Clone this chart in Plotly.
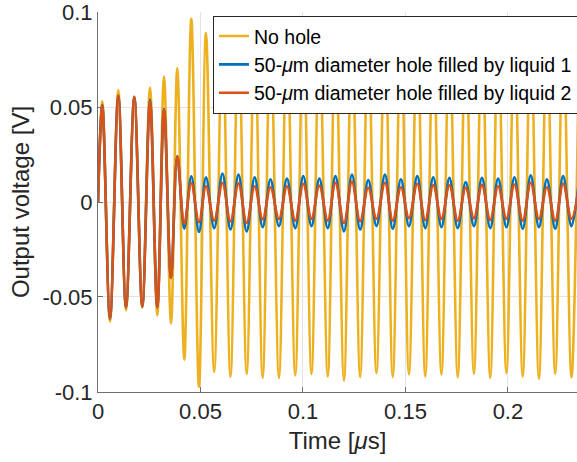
import plotly.graph_objects as go

# Times (µs) of the waveform turning points: start, then alternating peak / trough
t_us = [0, 0.0021, 0.00585, 0.0099, 0.01366, 0.01771, 0.02161, 0.02537, 0.02893,
        0.0322, 0.03561, 0.03868, 0.0421, 0.04551, 0.04927, 0.05268, 0.05668,
        0.06073, 0.06463, 0.06854, 0.07254, 0.07644, 0.08034, 0.08415, 0.08829,
        0.09220, 0.09624, 0.10015, 0.10415, 0.10800, 0.11210, 0.11585, 0.12000,
        0.12390, 0.12790, 0.13185, 0.13585, 0.14000, 0.14380, 0.14780, 0.15171,
        0.15576, 0.15966, 0.16356, 0.16756, 0.17146, 0.17551, 0.17941, 0.18341,
        0.18732, 0.19137, 0.19522, 0.19927, 0.20317, 0.20722, 0.21112, 0.21512,
        0.21902, 0.22307, 0.22693, 0.23098, 0.23483]

# Output voltage (V) at those turning points
v_no_hole = [0, 0.053, -0.063, 0.059, -0.057, 0.0557, -0.0557, 0.0603, -0.0597,
             0.066, -0.064, 0.0705, -0.083, 0.0965, -0.0973, 0.089, -0.0895,
             0.0905, -0.092, 0.0912, -0.0905, 0.0908, -0.0926, 0.0915, -0.0927,
             0.0910, -0.0913, 0.0906, -0.0905, 0.0913, -0.0919, 0.0918, -0.094,
             0.0909, -0.0922, 0.0904, -0.0901, 0.0911, -0.0922, 0.0907, -0.0908,
             0.0914, -0.0919, 0.0906, -0.0908, 0.0912, -0.0922, 0.0905, -0.0905,
             0.0916, -0.0926, 0.0903, -0.0901, 0.0910, -0.0919, 0.0917, -0.0931,
             0.0906, -0.0905, 0.0912, -0.0922, 0.0908]

v_liquid1 = [0, 0.051, -0.0615, 0.056, -0.0555, 0.0552, -0.055, 0.0538, -0.0555,
             0.049, -0.040, 0.0242, -0.014, 0.0135, -0.0158, 0.013, -0.0138,
             0.015, -0.0145, 0.0145, -0.0155, 0.013, -0.0133, 0.012, -0.0127,
             0.0124, -0.0138, 0.0136, -0.0127, 0.0124, -0.0138, 0.0136, -0.0155,
             0.0145, -0.0145, 0.0115, -0.0127, 0.0145, -0.0141, 0.012, -0.0127,
             0.0136, -0.0138, 0.013, -0.0133, 0.0127, -0.0138, 0.0105, -0.0127,
             0.0127, -0.0138, 0.0124, -0.0133, 0.013, -0.0141, 0.014, -0.0133,
             0.012, -0.0141, 0.0136, -0.0127, 0.013]

v_liquid2 = [0, 0.051, -0.0615, 0.056, -0.0555, 0.0552, -0.055, 0.0533, -0.0553,
             0.0487, -0.040, 0.024, -0.0115, 0.010, -0.0106, 0.0083, -0.0098,
             0.0101, -0.0103, 0.0098, -0.011, 0.0083, -0.0092, 0.0078, -0.0089,
             0.0083, -0.0098, 0.0096, -0.0089, 0.0087, -0.0098, 0.0101, -0.011,
             0.0106, -0.0101, 0.0075, -0.0089, 0.0101, -0.0098, 0.0078, -0.0085,
             0.0096, -0.0096, 0.0089, -0.0089, 0.0089, -0.0098, 0.0075, -0.0085,
             0.0089, -0.0094, 0.0083, -0.0089, 0.0092, -0.0098, 0.0101, -0.0089,
             0.0078, -0.0098, 0.0096, -0.0089, 0.009]

series_names = ["No hole",
                "50-<i>μ</i>m diameter hole filled by liquid 1",
                "50-<i>μ</i>m diameter hole filled by liquid 2"]
series_colors = ["#EDB120", "#0072BD", "#D95319"]

x_ticks = [0, 0.05, 0.1, 0.15, 0.2]
x_ticktext = ["0", "0.05", "0.1", "0.15", "0.2"]
y_ticks = [-0.1, -0.05, 0, 0.05, 0.1]
y_ticktext = ["-0.1", "-0.05", "0", "0.05", "0.1"]

FONT = "Liberation Sans, Arial, Helvetica, sans-serif"
TEXT_COLOR = "#262626"
AXIS_LINE_COLOR = "#6e6e6e"
GRID_COLOR = "#e3e3e3"

fig = go.Figure()
for vals, name, color in zip([v_no_hole, v_liquid1, v_liquid2], series_names, series_colors):
    fig.add_trace(go.Scatter(
        x=t_us, y=vals, name=name, mode="lines",
        line=dict(color=color, width=2.6, shape="spline", smoothing=1.0),
    ))

axis_common = dict(
    showline=True, linecolor=AXIS_LINE_COLOR, linewidth=1, mirror=False,
    ticks="inside", ticklen=5, tickcolor=AXIS_LINE_COLOR, tickwidth=1,
    showgrid=True, gridcolor=GRID_COLOR, gridwidth=1,
    zeroline=False, ticklabeloverflow="allow",
    tickfont=dict(family=FONT, size=22, color=TEXT_COLOR),
)

fig.update_xaxes(
    range=[0, 0.2337], tickvals=x_ticks, ticktext=x_ticktext,
    title=dict(text="Time [<i>μ</i>s]", font=dict(family=FONT, size=24, color=TEXT_COLOR), standoff=8),
    **axis_common,
)
fig.update_yaxes(
    range=[-0.10005, 0.10005], tickvals=y_ticks, ticktext=y_ticktext,
    title=dict(text="Output voltage [V]", font=dict(family=FONT, size=24, color=TEXT_COLOR), standoff=6),
    **axis_common,
)

fig.update_layout(
    width=577, height=462,
    margin=dict(l=98, r=0, t=12, b=70, autoexpand=False),
    paper_bgcolor="white", plot_bgcolor="white",
    font=dict(family=FONT, color=TEXT_COLOR),
    showlegend=True,
    legend=dict(
        x=0.24, y=0.99, xanchor="left", yanchor="top",
        bgcolor="white", bordercolor=TEXT_COLOR, borderwidth=1,
        font=dict(family=FONT, size=19.5, color="black"),
        tracegroupgap=0, itemwidth=30,
    ),
)

fig.write_html("out.html")
